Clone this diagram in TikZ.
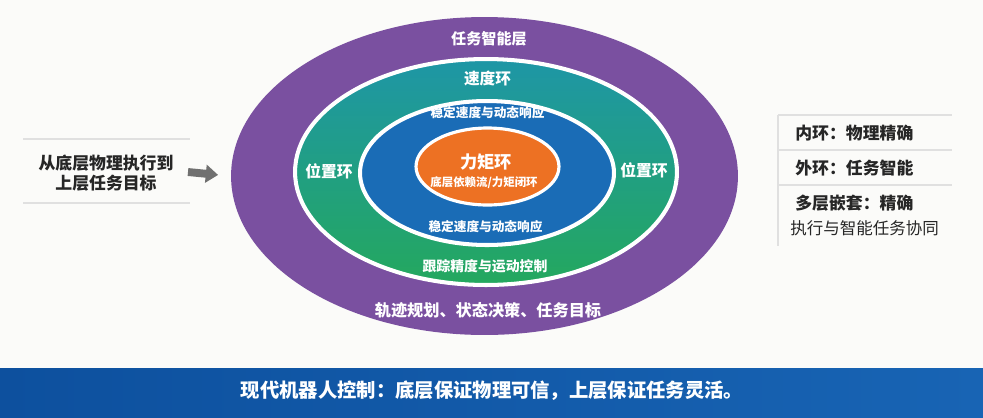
\documentclass[tikz,border=0pt]{standalone}
\usepackage{fontspec}
\setmainfont{Noto Sans CJK SC}
\usetikzlibrary{shapes.geometric,arrows.meta}
\definecolor{paper}{RGB}{251,251,249}
\definecolor{ringpurple}{RGB}{122,80,160}
\definecolor{ringteal}{RGB}{30,150,166}
\definecolor{ringgreen}{RGB}{36,168,94}
\definecolor{ringblue}{RGB}{26,108,182}
\definecolor{ringorange}{RGB}{237,113,35}
\definecolor{bandleft}{RGB}{13,80,158}
\definecolor{bandright}{RGB}{24,100,180}
\definecolor{rulegray}{RGB}{224,224,224}
\definecolor{arrowgray}{RGB}{112,112,112}
\tikzset{
  ring/.style={ellipse,inner sep=0pt,draw=white,line width=2.3pt},
  ringtext/.style={text=white,inner sep=0pt,font=\bfseries\fontsize{#1}{#1}\selectfont},
  notetext/.style={text=black!85,inner sep=0pt,font=\bfseries\fontsize{9.6}{11.4}\selectfont},
  plaintext/.style={text=black!85,inner sep=0pt,font=\fontsize{9.4}{11}\selectfont},
  ruleline/.style={rulegray,line width=0.8pt},
  flowarrow/.style={arrowgray,line width=4.5pt,-{Triangle[length=7pt,width=10pt]},shorten >=0.22cm}
}
\begin{document}
\begin{tikzpicture}[x=0.02cm,y=-0.02cm]
\fill[paper] (0,0) rectangle (983,417);
\node[ring,fill=ringpurple,draw=none,minimum width=10.14cm,minimum height=6.36cm] (taskring) at (484.5,176) {};
\node[ring,top color=ringteal,bottom color=ringgreen,minimum width=7.64cm,minimum height=4.52cm] (posring) at (486,172) {};
\node[ring,fill=ringblue,minimum width=5.08cm,minimum height=2.88cm] (speedring) at (487,173) {};
\node[ring,fill=ringorange,line width=1.8pt,minimum width=2.86cm,minimum height=1.54cm] (torquering) at (487.5,166.5) {};
\node[ringtext=8.6] (tasklabel) at (489,39) {任务智能层};
\node[ringtext=8.9] (speedlabel) at (487.5,78) {速度环};
\node[ringtext=7.2] (speedtop) at (487.5,113) {稳定速度与动态响应};
\node[ringtext=7.2] (speedbottom) at (485.5,227) {稳定速度与动态响应};
\node[ringtext=9] (posleft) at (329,171) {位置环};
\node[ringtext=9] (posright) at (644,170) {位置环};
\node[ringtext=9.8] (torquelabel) at (486,162) {力矩环};
\node[ringtext=6.5] (torquesub) at (484,183) {底层依赖流/力矩闭环};
\node[ringtext=7.9] (tracklabel) at (485,266) {跟踪精度与运动控制};
\node[ringtext=9.2] (planlabel) at (488,310) {轨迹规划、状态决策、任务目标};
\draw[ruleline] (23,139) -- (190,139);
\draw[ruleline] (23,203) -- (190,203);
\node[notetext,align=center] (leftnote) at (106,173) {从底层物理执行到\\上层任务目标};
\coordinate (arrowstart) at (188,172);
\draw[flowarrow] (arrowstart) -- (taskring.west);
\draw[ruleline] (778,115) -- (952,115);
\draw[ruleline] (778,150) -- (952,150);
\draw[ruleline] (778,185) -- (952,185);
\draw[ruleline] (778,115) -- (778,246);
\node[notetext,anchor=west] (innernote) at (795,133) {内环：物理精确};
\node[notetext,anchor=west] (outernote) at (795,168) {外环：任务智能};
\node[notetext,anchor=west] (nestnote) at (795,203) {多层嵌套：精确};
\node[plaintext,anchor=west] (nestmore) at (790,228) {执行与智能任务协同};
\fill[left color=bandleft,right color=bandright] (0,368) rectangle (983,417);
\node[ringtext=11] (bandtext) at (492,391) {现代机器人控制：底层保证物理可信，上层保证任务灵活。};
\end{tikzpicture}
\end{document}
